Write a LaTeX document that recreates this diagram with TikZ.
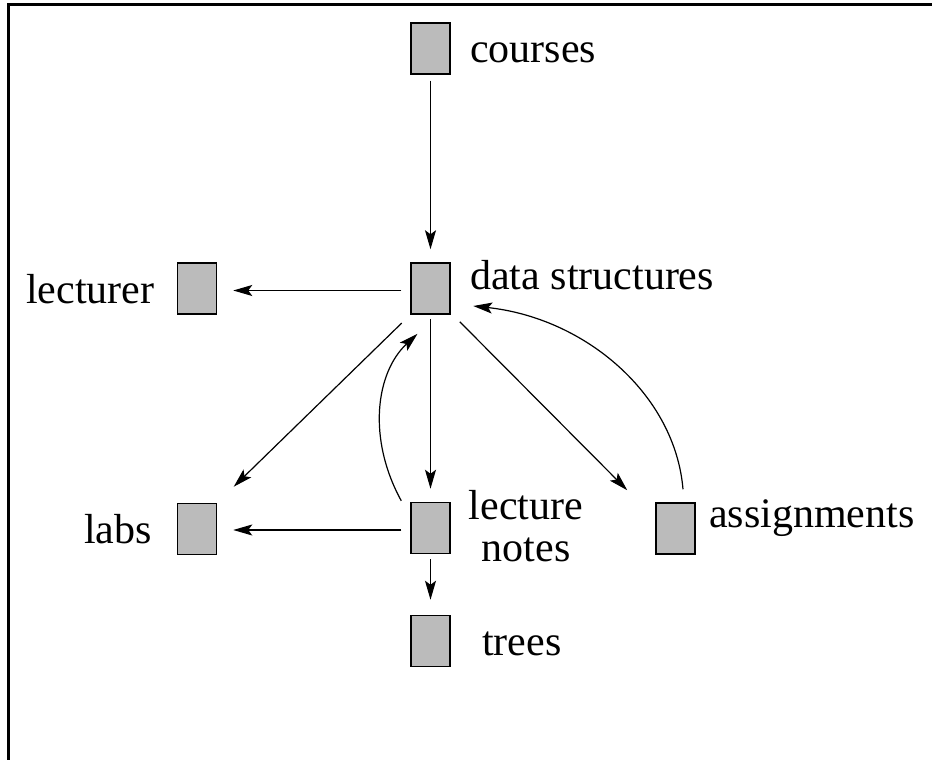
\documentclass[tikz,border=0pt]{standalone}
\usepackage{fontspec}
\newfontfamily\labelfont{LiberationSerif}[Extension=.ttf,UprightFont=*-Regular]
\usetikzlibrary{arrows.meta,calc}
\definecolor{boxgray}{HTML}{BBBBBB}
\tikzset{
  item/.style={draw=black, line width=1.5pt, fill=boxgray, minimum width=39pt, minimum height=51pt, inner sep=0pt},
  lbl/.style={inner sep=0pt, font=\labelfont\fontsize{42pt}{42pt}\selectfont},
  conn/.style={line width=1.2pt, -{Stealth[length=19pt,width=11pt,inset=4pt]}},
  frameline/.style={line width=3.5pt}
}
\begin{document}
\begin{tikzpicture}[x=1pt,y=-1pt]
\useasboundingbox (0,0) rectangle (932,760);
% open frame
\coordinate (fbl) at (8.5,762);
\coordinate (ftl) at (8.5,4.5);
\coordinate (ftr) at (934,4.5);
\draw[frameline] (fbl) -- (ftl) -- (ftr);
% boxes
\node[item] (courses) at (430.5,48.5) {};
\node[item] (ds) at (430.5,288.5) {};
\node[item] (lecturer) at (197,288.5) {};
\node[item] (labs) at (197,529) {};
\node[item] (ln) at (430.5,528) {};
\node[item] (assign) at (675.5,528.5) {};
\node[item] (trees) at (430.5,641) {};
% labels
\node[lbl, anchor=base west] (tcourses) at (470,63) {courses};
\node[lbl, anchor=base west] (tds) at (470,289) {data structures};
\node[lbl, anchor=base west] (tlecturer) at (26,303) {lecturer};
\node[lbl, anchor=base west] (tlabs) at (84,543) {labs};
\node[lbl, anchor=north, align=center] (tln) at (526,490) {lecture\\notes};
\node[lbl, anchor=base west] (tassign) at (709,527) {assignments};
\node[lbl, anchor=base west] (ttrees) at (482,655) {trees};
% connectors
\draw[conn, shorten <=6pt, shorten >=13pt] (courses.south) -- (ds.north);
\draw[conn, shorten <=9pt, shorten >=16pt] ($(ds.west)+(0,2)$) -- ($(lecturer.east)+(0,2)$);
\draw[conn, shorten <=12pt, shorten >=23pt] (ds.south west) -- (labs.north east);
\draw[conn, shorten <=4pt, shorten >=13pt] (ds.south) -- (ln.north);
\draw[conn] ($(ds.south east)+(9,7)$) -- ($(assign.north west)+(-28,-12)$);
\draw[conn, shorten <=9pt, shorten >=16pt] ($(ln.west)+(0,2)$) -- ($(labs.east)+(0,1)$);
\draw[conn, shorten <=5pt, shorten >=15pt] (ln.south) -- (trees.north);
\draw[conn] ($(ln.north west)+(-9,-1)$) .. controls ($(ln.north west)+(-43,-63)$) and ($(ds.south)+(-55,58)$) .. ($(ds.south)+(-13,19)$);
\draw[conn] ($(assign.north)+(7.5,-13)$) .. controls ($(assign.north)+(-0.5,-108)$) and ($(ds.east)+(134.5,29.5)$) .. ($(ds.east)+(22.5,17.5)$);
\end{tikzpicture}
\end{document}
